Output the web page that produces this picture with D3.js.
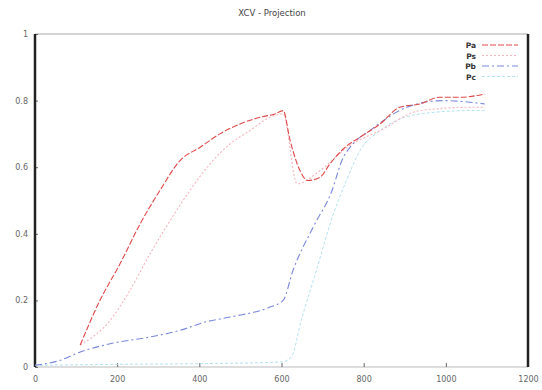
<!DOCTYPE html>
<html><head><meta charset="utf-8">
<script src="https://cdn.jsdelivr.net/npm/d3@7"></script>
<style>body{margin:0;background:#fff}svg{display:block}text{font-family:"DejaVu Sans",sans-serif}</style>
</head><body><svg id="c" width="542" height="390"></svg>
<script>
const title = "XCV - Projection";
const xTicks = [0, 200, 400, 600, 800, 1000, 1200];
const yTicks = [0, 0.2, 0.4, 0.6, 0.8, 1];
const yTickLabels = ["0", "0.2", "0.4", "0.6", "0.8", "1"];
const seriesNames = ["Pa", "Ps", "Pb", "Pc"];

const xA = [110, 158, 207, 256, 304, 353, 402, 450, 499, 548, 584, 604, 621, 645, 664, 694, 718, 755, 791, 840, 888, 937, 985, 1035, 1095];
const yA = [0.066, 0.20, 0.31, 0.43, 0.53, 0.62, 0.66, 0.70, 0.73, 0.75, 0.76, 0.77, 0.68, 0.59, 0.56, 0.57, 0.61, 0.66, 0.69, 0.73, 0.78, 0.79, 0.81, 0.81, 0.82];

const xB = [110, 183, 231, 280, 329, 377, 426, 475, 523, 572, 604, 638, 694, 760, 840, 937, 1059, 1095];
const yB = [0.066, 0.14, 0.23, 0.34, 0.44, 0.53, 0.61, 0.67, 0.71, 0.75, 0.76, 0.55, 0.59, 0.66, 0.71, 0.77, 0.78, 0.78];

const xC = [0, 61, 110, 183, 280, 353, 414, 475, 572, 604, 628, 677, 723, 747, 774, 815, 905, 993, 1095];
const yC = [0.005, 0.02, 0.045, 0.07, 0.09, 0.11, 0.135, 0.15, 0.18, 0.2, 0.29, 0.42, 0.53, 0.62, 0.67, 0.71, 0.78, 0.80, 0.79];

const xD = [0, 200, 400, 600, 624, 648, 685, 721, 758, 791, 840, 937, 1059, 1095];
const yD = [0.005, 0.008, 0.01, 0.015, 0.03, 0.14, 0.29, 0.44, 0.56, 0.65, 0.71, 0.76, 0.77, 0.77];

const colors = ["#e04848", "#f6b3bd", "#7a88dc", "#b4e2f2"];
const dashes = ["6,2", "2,2", "7,3,2,3", "3,2"];
const widths = [1.1, 1.1, 1.1, 1];

const svg = d3.select("#c");
const m = {l: 35, r: 528, t: 34, b: 367};
const x = d3.scaleLinear().domain([0, 1200]).range([m.l, m.r]);
const y = d3.scaleLinear().domain([0, 1]).range([m.b, m.t]);

svg.append("text").attr("x", 272).attr("y", 16).attr("text-anchor", "middle")
  .attr("font-size", 8.5).attr("fill", "#444").text(title);

svg.append("line").attr("x1", m.l).attr("x2", m.r).attr("y1", m.t).attr("y2", m.t).attr("stroke", "#aaa");
svg.append("line").attr("x1", m.l).attr("x2", m.r).attr("y1", m.b).attr("y2", m.b).attr("stroke", "#bbb");

const xAxis = svg.append("g").attr("transform", `translate(0,${m.b})`)
  .call(d3.axisBottom(x).tickValues(xTicks).tickSize(-4).tickPadding(9).tickFormat(d3.format("d")));
xAxis.select(".domain").remove();
xAxis.selectAll("line").attr("stroke", "#666");
xAxis.selectAll("text").attr("font-size", 8).attr("fill", "#666");

const yAxis = svg.append("g").attr("transform", `translate(${m.l},0)`)
  .call(d3.axisLeft(y).tickValues(yTicks).tickSize(-3).tickPadding(7).tickFormat((d, i) => yTickLabels[i]));
yAxis.select(".domain").remove();
yAxis.selectAll("line").attr("stroke", "#666");
yAxis.selectAll("text").attr("font-size", 8).attr("fill", "#666");

svg.append("line").attr("x1", m.l).attr("x2", m.l).attr("y1", m.t).attr("y2", m.b).attr("stroke", "#222").attr("stroke-width", 2.5);
svg.append("line").attr("x1", m.r).attr("x2", m.r).attr("y1", m.t).attr("y2", m.b).attr("stroke", "#222").attr("stroke-width", 2.5);

const line = d3.line().x(d => x(d[0])).y(d => y(d[1])).curve(d3.curveMonotoneX);
const data = [[xA, yA], [xB, yB], [xC, yC], [xD, yD]];
[3, 1, 2, 0].forEach(i => {
  const pts = data[i][0].map((v, j) => [v, data[i][1][j]]);
  svg.append("path").datum(pts).attr("d", line).attr("fill", "none")
    .attr("stroke", colors[i]).attr("stroke-width", widths[i]).attr("stroke-dasharray", dashes[i]);
});

seriesNames.forEach((n, i) => {
  const ly = 45 + i * 10.5;
  svg.append("text").attr("x", 476).attr("y", ly + 3).attr("text-anchor", "end")
    .attr("font-size", 7.5).attr("font-weight", "bold").attr("fill", "#333").text(n);
  svg.append("line").attr("x1", 482).attr("x2", 518).attr("y1", ly).attr("y2", ly)
    .attr("stroke", colors[i]).attr("stroke-width", widths[i]).attr("stroke-dasharray", dashes[i]);
});
</script></body></html>
